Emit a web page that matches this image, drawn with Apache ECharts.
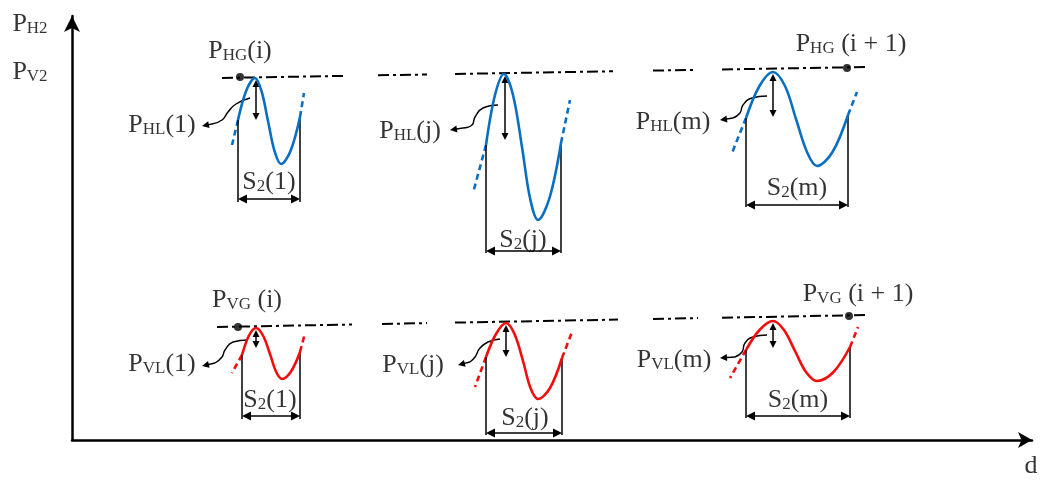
<!DOCTYPE html>
<html>
<head>
<meta charset="utf-8">
<script src="https://cdn.jsdelivr.net/npm/echarts@6.0.0/dist/echarts.min.js"></script>
<style>
  html, body { margin: 0; background: #fff; }
  #main { width: 1044px; height: 484px; }
</style>
</head>
<body>
<div id="main"></div>
<script>
// diagram units: d to the right of the P axis, P upward from the d axis
var dMax = 960, pMax = 424;

// dash-dot level lines [d1, p1, d2, p2]
var levelH = [[150, 362, 273, 364.1], [306, 364.7, 355, 365.5], [383, 366, 541, 368.7], [581, 369.4, 625, 370.1], [650, 370.5, 795, 373]];
var levelV = [[145, 113, 280, 115.5], [310, 116, 355, 116.9], [383, 117.4, 546, 120.4], [581, 121, 626, 121.9], [650, 122.3, 796, 125]];

// P_HG / P_VG points
var pointsG = [[168, 363], [775, 372], [166, 113], [777, 124]];

// profiles, left end -> peak -> trough -> right end
var waveH = [
  [[166, 320], [174.5, 350], [183, 362], [189.5, 349], [196, 319], [202.5, 289], [209, 276], [218.5, 289], [228, 323]],
  [[414, 295], [423, 345], [432, 366], [441, 345], [450, 293], [458, 242], [466, 220], [477.5, 242], [489, 297]],
  [[674, 322], [687.5, 354], [701, 368], [713, 354], [724, 321], [735, 288], [745, 274], [760.5, 288], [776, 325]]
];
var waveV = [
  [[170, 85], [177, 104.5], [184, 112], [191, 104.5], [198, 86], [204, 68.5], [210, 61], [219, 68.5], [228, 88]],
  [[414, 83], [424, 106], [434, 117], [442.5, 106], [451, 79], [458.5, 52], [466, 41], [478, 52], [490, 82]],
  [[674, 90], [687.5, 110], [701, 119], [712, 110], [723, 89], [734, 68], [745, 59], [761.5, 68], [778, 93]]
];
// dashed run-outs [left tip, right tip]
var tailH = [[[160, 295], [232, 347]], [[401, 247], [498, 340]], [[660, 287], [785, 348]]];
var tailV = [[[160, 67], [233, 107]], [[403, 53], [500, 108]], [[658, 62], [786, 113]]];
// P_L drops [d, top, bottom]
var dropH = [[184, 360, 320], [433, 364, 300], [701, 366, 323]];
var dropV = [[184, 110, 92], [434, 115, 83], [701, 117, 92]];
// S2 spans [arrow level, bar bottom]
var spanH = [[241, 238], [189, 187], [235, 233]];
var spanV = [[24, 21], [7, 5], [24, 22]];
// leader curves, last point is the arrow tip
var leaderH = [
  [[178, 342], [164, 336], [156, 328], [150, 320], [140, 316], [130, 314]],
  [[426, 335], [411, 332], [403, 323], [400, 315], [391, 312], [378, 310]],
  [[695, 344], [680, 342], [671, 335], [668, 327], [661, 322], [648, 320]]
];
var leaderV = [
  [[176, 100], [161, 98], [153, 90], [150, 83], [143, 77], [130, 74]],
  [[428, 101], [416, 98], [408, 92], [403, 83], [398, 78], [386, 75]],
  [[695, 105], [681, 103], [673, 97], [670, 88], [663, 83], [648, 82]]
];

// text: [main, subscript, rest]
var labelText = [
  ['P', 'H2', ''], ['P', 'V2', ''],
  ['P', 'HG', '(i)'], ['P', 'HG', ' (i + 1)'],
  ['P', 'HL', '(1)'], ['P', 'HL', '(j)'], ['P', 'HL', '(m)'],
  ['S', '2', '(1)'], ['S', '2', '(j)'], ['S', '2', '(m)'],
  ['P', 'VG', ' (i)'], ['P', 'VG', ' (i + 1)'],
  ['P', 'VL', '(1)'], ['P', 'VL', '(j)'], ['P', 'VL', '(m)'],
  ['S', '2', '(1)'], ['S', '2', '(j)'], ['S', '2', '(m)'],
  ['d', '', '']
];
var labelPos = [
  [-42, 416], [-42, 368],
  [168, 389], [779, 396],
  [90, 315], [338, 309], [601, 318],
  [197, 258], [451, 200], [725, 252],
  [175, 140], [786, 146],
  [90, 76], [341, 75], [602, 80],
  [198, 40], [453, 22], [726, 40],
  [959, -26]
];

var blue = '#0b6fc1', red = '#f20d0d', ink = '#000';
var serif = 'Liberation Serif';
var head = 9, smallHead = 7;

function seg(a, b) { return { coords: [a, b] }; }
// pull b back toward a so an arrow head's tip lands on b
function pull(a, b, d) {
  var dx = b[0] - a[0], dy = b[1] - a[1];
  var l = Math.sqrt(dx * dx + dy * dy);
  return [b[0] - dx / l * d, b[1] - dy / l * d];
}
function linesSeries(data, style, symbol, size) {
  return {
    type: 'lines', coordinateSystem: 'cartesian2d', silent: true, z: 4,
    symbol: symbol || 'none', symbolSize: size || head,
    lineStyle: echarts.util.extend({ opacity: 1, curveness: 0 }, style),
    itemStyle: { color: style.color },
    data: data
  };
}

var series = [];
series.push(linesSeries(levelH.concat(levelV).map(function (s) {
  return seg([s[0], s[1]], [s[2], s[3]]);
}), { color: ink, width: 2, type: [11, 4, 3, 4] }));

[[waveH, tailH, dropH, spanH, leaderH, blue], [waveV, tailV, dropV, spanV, leaderV, red]].forEach(function (g) {
  var waves = g[0], tails = g[1], drops = g[2], spans = g[3], leaders = g[4], color = g[5];
  var tailData = [], barData = [], spanData = [], dropData = [], tipData = [];
  waves.forEach(function (w, i) {
    var a = w[0], b = w[w.length - 1];
    series.push({
      type: 'line', data: w, smooth: 0.35, symbol: 'none', silent: true, z: 5,
      lineStyle: { color: color, width: 2.6 }
    });
    tailData.push(seg(a, tails[i][0]), seg(b, tails[i][1]));
    barData.push(seg(a, [a[0], spans[i][1]]), seg(b, [b[0], spans[i][1]]));
    var l = [a[0], spans[i][0]], r = [b[0], spans[i][0]];
    spanData.push(seg(pull(r, l, head / 2), pull(l, r, head / 2)));
    var t = [drops[i][0], drops[i][1]], u = [drops[i][0], drops[i][2]];
    dropData.push(seg(pull(u, t, smallHead / 2), pull(t, u, smallHead / 2)));
    var ld = leaders[i], n = ld.length;
    series.push({
      type: 'line', data: ld.slice(0, n - 1), smooth: 0.5, symbol: 'none', silent: true, z: 4,
      lineStyle: { color: ink, width: 1.4 }
    });
    tipData.push(seg(ld[n - 2], pull(ld[n - 2], ld[n - 1], smallHead / 2)));
  });
  series.push(linesSeries(tailData, { color: color, width: 2.6, type: [6, 4] }));
  series.push(linesSeries(barData, { color: ink, width: 1.5 }));
  series.push(linesSeries(spanData, { color: ink, width: 1.5 }, ['triangle', 'triangle']));
  series.push(linesSeries(dropData, { color: ink, width: 1.5 }, ['triangle', 'triangle'], smallHead));
  series.push(linesSeries(tipData, { color: ink, width: 1.4 }, ['none', 'triangle'], smallHead));
});

series.push({
  type: 'scatter', data: pointsG, symbolSize: 8, silent: true, z: 6,
  itemStyle: { color: ink }
});

series.push({
  type: 'scatter', symbolSize: 0, silent: true, clip: false, z: 7,
  itemStyle: { color: 'transparent' },
  label: {
    show: true, position: 'inside', color: ink,
    rich: {
      p: { fontFamily: serif, fontSize: 26, color: ink },
      s: { fontFamily: serif, fontSize: 17, color: ink, padding: [9, 0, 0, 0] }
    }
  },
  data: labelText.map(function (t, i) {
    var txt = '{p|' + t[0] + '}' + (t[1] ? '{s|' + t[1] + '}' : '') + (t[2] ? '{p|' + t[2] + '}' : '');
    return { value: labelPos[i], label: { formatter: txt } };
  })
});

var axisLine = { show: true, onZero: false, symbol: ['none', 'arrow'], lineStyle: { color: ink, width: 2.5 } };
var chart = echarts.init(document.getElementById('main'));
chart.setOption({
  animation: false,
  backgroundColor: '#fff',
  grid: { left: 72, right: 12, top: 16, bottom: 44 },
  xAxis: {
    type: 'value', min: 0, max: dMax,
    axisLine: echarts.util.extend({ symbolSize: [12, 14] }, axisLine),
    axisTick: { show: false }, axisLabel: { show: false }, splitLine: { show: false }
  },
  yAxis: {
    type: 'value', min: 0, max: pMax,
    axisLine: echarts.util.extend({ symbolSize: [12, 16] }, axisLine),
    axisTick: { show: false }, axisLabel: { show: false }, splitLine: { show: false }
  },
  series: series
});
</script>
</body>
</html>
